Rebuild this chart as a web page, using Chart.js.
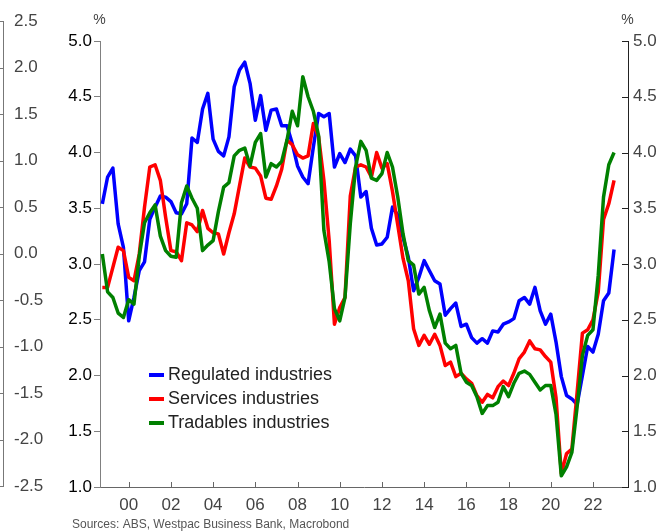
<!DOCTYPE html>
<html>
<head>
<meta charset="utf-8">
<script src="https://cdn.jsdelivr.net/npm/chart.js@4.4.1/dist/chart.umd.min.js"></script>
<style>
  html, body { margin: 0; padding: 0; background: #fff; }
  #wrap { position: relative; width: 663px; height: 532px; }
  #side, #main { position: absolute; left: 0; top: 0; }
</style>
</head>
<body>
<div id="wrap">
  <canvas id="side" width="60" height="532"></canvas>
  <canvas id="main" width="663" height="532"></canvas>
</div>
<script>
// quarterly, Sep-98 to Dec-22 (plotted at quarter end)
const firstQuarterEnd = 1998.75;

const regulated = [
  3.54, 3.78, 3.86, 3.36, 3.15, 2.49, 2.70, 2.94, 3.02, 3.40,
  3.51, 3.61, 3.60, 3.56, 3.46, 3.45, 3.54, 4.13, 4.09, 4.39,
  4.53, 4.12, 4.01, 3.97, 4.14, 4.59, 4.74, 4.81, 4.62, 4.29,
  4.51, 4.20, 4.38, 4.39, 4.24, 4.24, 4.08, 3.88, 3.78, 3.72,
  4.05, 4.35, 4.32, 4.35, 3.87, 3.99, 3.91, 4.03, 3.97, 3.60,
  3.65, 3.32, 3.17, 3.18, 3.24, 3.51, 3.44, 3.24, 3.06, 2.76,
  2.88, 3.03, 2.94, 2.85, 2.82, 2.54, 2.60, 2.65, 2.44, 2.46,
  2.34, 2.29, 2.33, 2.29, 2.40, 2.39, 2.46, 2.48, 2.51, 2.67,
  2.70, 2.64, 2.79, 2.58, 2.46, 2.55, 2.30, 1.99, 1.82, 1.79,
  1.74, 2.00, 2.26, 2.21, 2.37, 2.67, 2.74, 3.13
];

const services = [
  2.79, 2.79, 2.97, 3.15, 3.12, 2.88, 2.85, 3.09, 3.51, 3.87,
  3.89, 3.75, 3.42, 3.12, 3.11, 3.03, 3.37, 3.35, 3.29, 3.48,
  3.32, 3.28, 3.27, 3.09, 3.28, 3.45, 3.70, 3.95, 3.87, 3.86,
  3.79, 3.59, 3.58, 3.70, 3.85, 4.11, 4.07, 3.98, 3.95, 3.97,
  4.26, 4.14, 3.75, 3.21, 2.46, 2.61, 2.70, 3.61, 3.87, 3.89,
  3.87, 3.78, 4.00, 3.86, 3.90, 3.65, 3.35, 3.05, 2.85, 2.42,
  2.27, 2.36, 2.28, 2.37, 2.27, 2.09, 2.12, 1.99, 2.02, 1.97,
  1.93, 1.82, 1.76, 1.83, 1.80, 1.90, 1.95, 1.91, 2.02, 2.15,
  2.21, 2.31, 2.24, 2.23, 2.17, 2.12, 1.80, 1.12, 1.30, 1.34,
  1.85, 2.38, 2.41, 2.50, 2.75, 3.40, 3.54, 3.75
];

const tradables = [
  3.09, 2.75, 2.70, 2.56, 2.52, 2.68, 2.64, 3.07, 3.37, 3.46,
  3.53, 3.25, 3.12, 3.07, 3.06, 3.55, 3.70, 3.59, 3.50, 3.12,
  3.17, 3.21, 3.47, 3.69, 3.73, 3.97, 4.02, 4.04, 3.88, 4.09,
  4.17, 3.78, 3.90, 3.87, 3.92, 4.11, 4.37, 4.24, 4.68, 4.50,
  4.37, 4.15, 3.30, 3.02, 2.60, 2.49, 2.70, 3.36, 3.87, 4.10,
  4.02, 3.77, 3.75, 3.81, 4.00, 3.87, 3.60, 3.27, 3.03, 2.99,
  2.73, 2.79, 2.58, 2.43, 2.55, 2.29, 2.24, 2.27, 2.02, 1.94,
  1.91, 1.81, 1.66, 1.73, 1.73, 1.76, 1.90, 1.81, 1.93, 2.02,
  2.04, 2.01, 1.94, 1.87, 1.91, 1.91, 1.65, 1.10, 1.18, 1.31,
  1.72, 2.18, 2.36, 2.41, 2.90, 3.60, 3.89, 4.00
];

const quarters = regulated.map((_, i) => firstQuarterEnd + i / 4);
const yearTicks = [2000, 2002, 2004, 2006, 2008, 2010, 2012, 2014, 2016, 2018, 2020, 2022];
const sourceNote = 'Sources: ABS, Westpac Business Bank, Macrobond';

const FONT = '"Liberation Sans", Arial, sans-serif';
Chart.defaults.font.family = FONT;
Chart.defaults.font.size = 17;

// short tick marks pointing into the plot area
const inwardTicks = {
  id: 'inwardTicks',
  afterDraw(chart, args, opts) {
    const { ctx, chartArea: area } = chart;
    ctx.save();
    ctx.lineWidth = 1;
    (opts.axes || []).forEach(a => {
      const scale = chart.scales[a.id];
      ctx.strokeStyle = a.color;
      scale.ticks.forEach(t => {
        const p = Math.round(scale.getPixelForValue(t.value)) + 0.5;
        ctx.beginPath();
        if (scale.isHorizontal()) {
          ctx.moveTo(p, area.bottom);
          ctx.lineTo(p, area.bottom - a.len);
        } else {
          ctx.moveTo(area.right, p);
          ctx.lineTo(area.right - a.len, p);
        }
        ctx.stroke();
      });
    });
    ctx.restore();
  }
};

// unit labels, in-plot legend and source line
const decorations = {
  id: 'decorations',
  afterDraw(chart) {
    const { ctx, chartArea: area } = chart;
    ctx.save();
    ctx.font = '14px ' + FONT;
    ctx.fillStyle = '#444';
    ctx.textAlign = 'center';
    ctx.textBaseline = 'middle';
    ctx.fillText('%', area.left - 0.5, area.top - 21);
    ctx.fillText('%', area.right - 0.5, area.top - 21);

    ctx.font = '18px ' + FONT;
    ctx.textAlign = 'left';
    chart.data.datasets.forEach((ds, i) => {
      const y = area.top + 334 + i * 24;
      ctx.strokeStyle = ds.borderColor;
      ctx.lineWidth = 4;
      ctx.beginPath();
      ctx.moveTo(area.left + 49, y);
      ctx.lineTo(area.left + 64, y);
      ctx.stroke();
      ctx.fillStyle = '#222';
      ctx.fillText(ds.label, area.left + 68, y);
    });

    ctx.font = '12px ' + FONT;
    ctx.fillStyle = '#555';
    ctx.fillText(sourceNote, 72, chart.height - 7);
    ctx.restore();
  }
};

// cut-off axis at the far left
new Chart(document.getElementById('side'), {
  type: 'line',
  data: { datasets: [] },
  plugins: [inwardTicks],
  options: {
    responsive: false,
    animation: false,
    layout: { padding: { top: 20, bottom: 46, left: 0, right: 0 } },
    plugins: {
      legend: { display: false },
      tooltip: { enabled: false },
      inwardTicks: { axes: [{ id: 'y', len: 4, color: '#777' }] }
    },
    scales: {
      x: { display: false },
      y: {
        position: 'right',
        min: -2.5,
        max: 2.5,
        grid: { drawOnChartArea: false, drawTicks: false },
        border: { color: '#777' },
        ticks: { stepSize: 0.5, padding: 11, color: '#444', callback: v => v.toFixed(1) },
        afterFit(s) { s.width = 57; }
      }
    }
  }
});

new Chart(document.getElementById('main'), {
  type: 'line',
  data: {
    labels: quarters,
    datasets: [{
      label: 'Regulated industries',
      data: regulated,
      borderColor: '#0000ff',
      order: 2
    },
    {
      label: 'Services industries',
      data: services,
      borderColor: '#ff0000',
      order: 1
    },
    {
      label: 'Tradables industries',
      data: tradables,
      borderColor: '#008000',
      order: 0
    }]
  },
  plugins: [inwardTicks, decorations],
  options: {
    responsive: false,
    animation: false,
    layout: { padding: { top: 41, bottom: 0, left: 0, right: 0 } },
    elements: {
      line: { borderWidth: 3.5, tension: 0, borderJoinStyle: 'round', fill: false },
      point: { radius: 0, hoverRadius: 0 }
    },
    plugins: {
      legend: { display: false },
      tooltip: { enabled: false },
      inwardTicks: {
        axes: [
          { id: 'x', len: 5, color: '#666' },
          { id: 'y2', len: 6, color: '#222' }
        ]
      }
    },
    scales: {
      x: {
        type: 'linear',
        min: 1998.64,
        max: 2023.66,
        grid: { drawOnChartArea: false, drawTicks: false },
        border: { color: '#666' },
        ticks: {
          padding: 8,
          color: '#444',
          autoSkip: false,
          maxRotation: 0,
          callback: v => String(v).slice(2)
        },
        afterBuildTicks(s) { s.ticks = yearTicks.map(v => ({ value: v })); },
        afterFit(s) { s.height = 45; }
      },
      y: {
        position: 'left',
        min: 1,
        max: 5,
        grid: { drawOnChartArea: false, drawTicks: true, tickLength: 6, color: '#808080' },
        border: { color: '#808080' },
        ticks: { stepSize: 0.5, padding: 2, color: '#000', callback: v => v.toFixed(1) },
        afterFit(s) { s.width = 100; }
      },
      y2: {
        position: 'right',
        min: 1,
        max: 5,
        grid: { drawOnChartArea: false, drawTicks: false },
        border: { color: '#222' },
        ticks: { stepSize: 0.5, padding: 5, color: '#444', callback: v => v.toFixed(1) },
        afterFit(s) { s.width = 35; }
      }
    }
  }
});
</script>
</body>
</html>
